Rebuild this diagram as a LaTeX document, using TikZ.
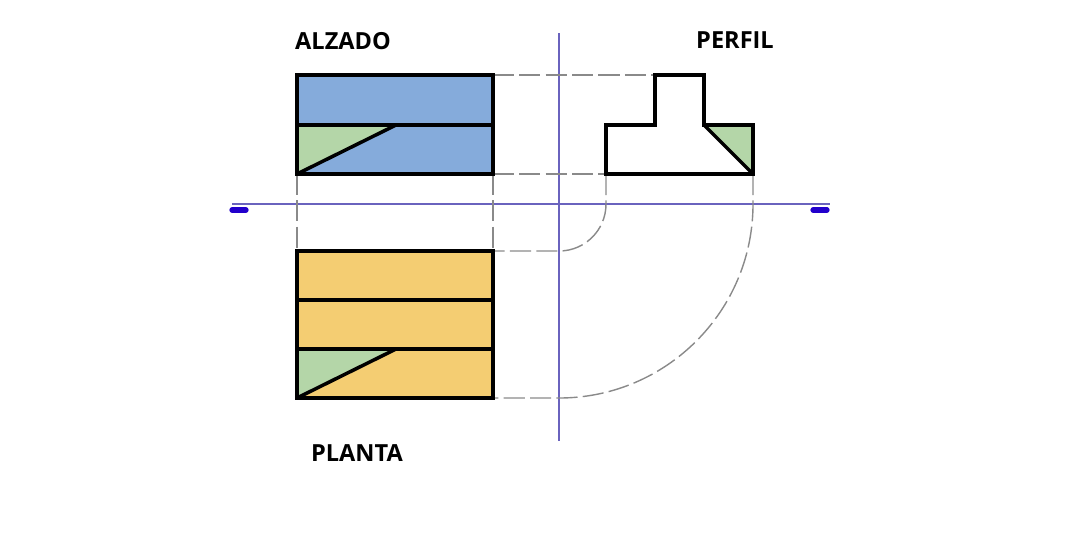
\documentclass[tikz,border=0pt]{standalone}
\usepackage{fontspec}
\setmainfont{Open Sans}[BoldFont={Open Sans Bold}]
\usepackage{tikz}
\usetikzlibrary{calc}
\definecolor{alzadoblue}{HTML}{85ABDB}
\definecolor{plantaorange}{HTML}{F4CD72}
\definecolor{facegreen}{HTML}{B4D6A8}
\definecolor{axisblue}{HTML}{6A63BE}
\definecolor{tickblue}{HTML}{2200CC}
\definecolor{dashgray}{HTML}{8A8A8A}
\tikzset{
  edge/.style={draw=black, line width=2pt, line join=miter},
  axisline/.style={draw=axisblue, line width=0.7pt},
  tickmark/.style={draw=tickblue, line width=3pt, line cap=round},
  hidden/.style={draw=dashgray, line width=0.8pt, dash pattern=on 12pt off 3pt},
  title/.style={font=\bfseries\fontsize{13.4}{16}\selectfont, text=black, inner sep=0pt}
}
\begin{document}
\begin{tikzpicture}[x=0.02cm, y=-0.02cm]
\useasboundingbox (0,0) rectangle (1084,559);
% Named corners
\coordinate (a1) at (297,75);
\coordinate (a2) at (493,75);
\coordinate (a3) at (493,174);
\coordinate (a4) at (297,174);
\coordinate (a5) at (297,125);
\coordinate (a6) at (493,125);
\coordinate (a7) at (396,125);
\coordinate (p1) at (297,251);
\coordinate (p2) at (493,251);
\coordinate (p3) at (493,398);
\coordinate (p4) at (297,398);
\coordinate (p5) at (297,300);
\coordinate (p6) at (493,300);
\coordinate (p7) at (297,349);
\coordinate (p8) at (493,349);
\coordinate (p9) at (396,349);
\coordinate (s1) at (606,174);
\coordinate (s2) at (606,125);
\coordinate (s3) at (655,125);
\coordinate (s4) at (655,75);
\coordinate (s5) at (704,75);
\coordinate (s6) at (704,125);
\coordinate (s7) at (753,125);
\coordinate (s8) at (753,174);

% Fills
\fill[alzadoblue] (a1) rectangle (a3);
\fill[facegreen] (a5) -- (a7) -- (a4) -- cycle;
\fill[plantaorange] (p1) rectangle (p3);
\fill[facegreen] (p7) -- (p9) -- (p4) -- cycle;
\fill[facegreen] (s6) -- (s7) -- (s8) -- cycle;

% Axes
\coordinate (axl) at (232,204);
\coordinate (axr) at (830,204);
\coordinate (axt) at (559,33);
\coordinate (axb) at (559,441);
\draw[axisline] (axl) -- (axr);
\draw[axisline] (axt) -- (axb);
\coordinate (tl1) at (232,210);
\coordinate (tl2) at (246,210);
\coordinate (tr1) at (813,210);
\coordinate (tr2) at (827,210);
\draw[tickmark] (tl1) -- (tl2);
\draw[tickmark] (tr1) -- (tr2);

% Projection lines
\draw[hidden] (a2) -- (s4);
\draw[hidden] (a3) -- (s1);
\draw[hidden] (a4) -- (p1);
\draw[hidden] (a3) -- (p2);
\draw[hidden] (s1) -- (606,204) arc[start angle=0, end angle=90, radius=47] -- (p2);
\draw[hidden] (s8) -- (753,204) arc[start angle=0, end angle=90, radius=194] -- (p3);

% Alzado
\draw[edge] (a1) rectangle (a3);
\draw[edge] (a5) -- (a6);
\draw[edge] (a4) -- (a7);
% Planta
\draw[edge] (p1) rectangle (p3);
\draw[edge] (p5) -- (p6);
\draw[edge] (p7) -- (p8);
\draw[edge] (p4) -- (p9);
% Perfil
\draw[edge] (s1) -- (s2) -- (s3) -- (s4) -- (s5) -- (s6) -- (s7) -- (s8) -- cycle;
\draw[edge] (s6) -- (s8);

% Titles
\node[title] (alzado) at (343,41) {ALZADO};
\node[title] (perfil) at (735,40) {PERFIL};
\node[title] (planta) at (357,453) {PLANTA};
\end{tikzpicture}
\end{document}
